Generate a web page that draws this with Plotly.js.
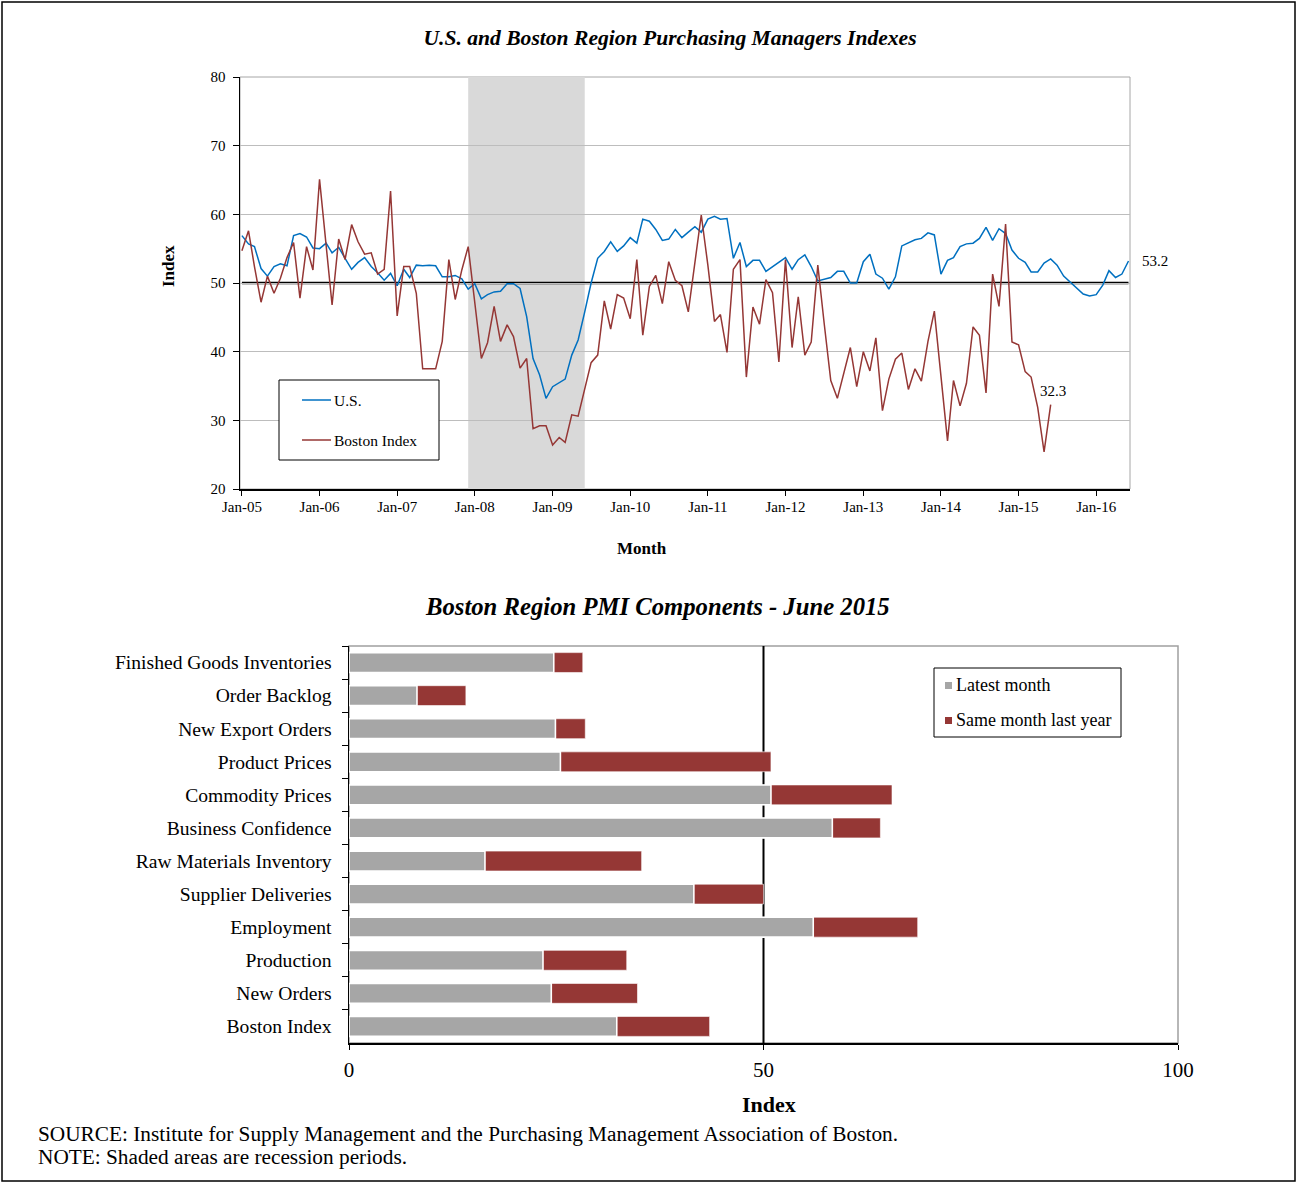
<!DOCTYPE html>
<html><head><meta charset="utf-8">
<script src="https://cdn.plot.ly/plotly-3.0.1.min.js"></script>
<style>html,body{margin:0;padding:0;background:#fff}#chart{width:1297px;height:1183px}</style>
</head><body><div id="chart"></div>
<script>
// ---------- DATA ----------
const firstYear = 2005;              // series start: Jan-05
const usPMI = [
 56.9,55.7,55.3,52.1,51.0,52.4,52.8,52.5,56.9,57.2,56.7,55.1,
 55.0,55.8,54.4,55.2,53.6,52.0,53.0,53.7,52.4,51.5,50.4,51.4,
 49.6,52.0,50.8,52.6,52.5,52.6,52.5,50.9,50.9,51.1,50.6,49.1,
 49.9,47.7,48.3,48.7,48.8,49.9,49.9,49.2,45.1,39.0,36.6,33.2,
 34.9,35.5,36.0,39.5,41.7,45.8,50.0,53.6,54.6,56.0,54.6,55.4,
 56.6,55.8,59.3,59.0,57.8,56.2,56.4,57.8,56.6,57.4,58.2,57.4,
 59.3,59.7,59.3,59.4,53.6,55.9,52.4,53.3,53.3,51.7,52.4,53.0,
 53.7,52.0,53.4,54.1,52.4,50.3,50.5,50.8,51.7,51.7,50.0,50.0,
 53.1,54.2,51.3,50.7,49.1,50.9,55.4,55.8,56.3,56.5,57.3,57.0,
 51.3,53.3,53.7,55.3,55.7,55.8,56.5,58.1,56.2,57.9,57.2,54.8,
 53.6,53.0,51.6,51.6,52.9,53.5,52.6,51.0,50.1,49.2,48.4,48.1,
 48.3,49.7,51.8,50.8,51.3,53.2
];
const bostonPMI = [
 54.7,57.6,52.4,47.2,51.0,48.5,50.7,53.7,55.9,47.8,55.3,51.9,
 65.1,56.0,46.8,56.4,53.4,58.5,56.0,54.2,54.4,51.3,52.0,63.4,
 45.2,52.4,52.4,48.5,37.5,37.5,37.5,41.5,53.4,47.6,51.9,55.3,
 47.2,39.0,41.3,46.6,41.5,43.9,42.2,37.6,39.0,28.8,29.2,29.2,
 26.4,27.5,26.8,30.8,30.6,34.4,38.4,39.5,47.4,43.3,48.3,47.8,
 44.8,53.4,42.4,49.5,51.1,47.0,53.1,50.4,49.6,45.8,53.0,59.9,
 52.6,44.4,45.4,39.9,52.0,53.4,36.3,46.5,44.0,50.5,48.6,38.5,
 53.4,40.6,48.0,39.5,41.4,52.6,44.1,35.8,33.2,36.9,40.6,34.9,
 40.0,37.2,42.0,31.4,36.0,38.9,39.8,34.5,37.5,35.7,41.5,45.9,
 36.6,27.0,35.8,32.1,35.4,43.6,42.4,34.0,51.3,46.6,58.6,41.4,
 41.0,37.1,36.3,31.9,25.4,32.3
];
const recession = ['2007-12-01', '2009-06-01'];
const thresholdValue = 50;

const componentNames = [
 'Finished Goods Inventories','Order Backlog','New Export Orders','Product Prices',
 'Commodity Prices','Business Confidence','Raw Materials Inventory','Supplier Deliveries',
 'Employment','Production','New Orders','Boston Index'
];
const latestMonth       = [24.7, 8.2,24.9,25.5,50.9,58.3,16.4,41.6,56.0,23.4,24.4,32.3];
const sameMonthLastYear = [28.2,14.1,28.5,50.9,65.5,64.1,35.3,50.0,68.6,33.5,34.8,43.5];
const seriesNames = ['U.S.', 'Boston Index'];
const barNames = ['Latest month', 'Same month last year'];

// ---------- HELPERS ----------
const W = 1297, H = 1183;
const px = x => x / W, py = y => 1 - y / H;
const pad = n => (n < 10 ? '0' : '') + n;
const monthDate = i => (firstYear + Math.floor(i / 12)) + '-' + pad(i % 12 + 1) + '-01';
const usX = usPMI.map((_, i) => monthDate(i));
const bosX = bostonPMI.map((_, i) => monthDate(i));
const SERIF = '"Liberation Serif", "Times New Roman", serif';
const BLUE = '#0070c0', RED = '#953735', GRAY = '#a6a6a6';

const traces = [
 {type:'scatter', mode:'lines', name:seriesNames[0], x:usX, y:usPMI, xaxis:'x', yaxis:'y',
  line:{color:BLUE, width:1.5}, hoverinfo:'x+y'},
 {type:'scatter', mode:'lines', name:seriesNames[1], x:bosX, y:bostonPMI, xaxis:'x', yaxis:'y',
  line:{color:RED, width:1.5}, hoverinfo:'x+y'},
 {type:'bar', orientation:'h', name:barNames[1], x:sameMonthLastYear, y:componentNames,
  xaxis:'x2', yaxis:'y2', width:0.6, marker:{color:RED, line:{color:'#ffffff', width:0.6}}},
 {type:'bar', orientation:'h', name:barNames[0], x:latestMonth, y:componentNames,
  xaxis:'x2', yaxis:'y2', width:0.6, marker:{color:GRAY, line:{color:'#ffffff', width:1.6}}}
];

const shapes = [
 // recession shading
 {type:'rect', xref:'x', yref:'y', x0:recession[0], x1:recession[1], y0:20, y1:80,
  fillcolor:'#d9d9d9', line:{width:0}, layer:'below'},
 // top plot frame
 {type:'rect', xref:'x domain', yref:'y domain', x0:0, x1:1, y0:0, y1:1,
  line:{color:'#a6a6a6', width:1}, layer:'below'},
 // 50 reference line (top)
 {type:'line', xref:'x', yref:'y', x0:usX[0], x1:usX[usX.length-1], y0:thresholdValue, y1:thresholdValue,
  line:{color:'#000', width:2.5}, layer:'below'},
 // bottom plot frame
 {type:'rect', xref:'x2 domain', yref:'y2 domain', x0:0, x1:1, y0:0, y1:1,
  line:{color:'#a0a0a0', width:1.5}, layer:'below'},
 // 50 reference line (bottom)
 {type:'line', xref:'x2', yref:'y2 domain', x0:thresholdValue, x1:thresholdValue, y0:0, y1:1,
  line:{color:'#000', width:2}, layer:'below'},
 // outer border
 {type:'rect', xref:'paper', yref:'paper', x0:px(2), x1:px(1295), y0:py(1181), y1:py(2),
  line:{color:'#000', width:1.5}},
 // top legend
 {type:'rect', xref:'paper', yref:'paper', x0:px(279), x1:px(439), y0:py(460), y1:py(380),
  fillcolor:'#fff', line:{color:'#000', width:1}},
 {type:'line', xref:'paper', yref:'paper', x0:px(302), x1:px(331), y0:py(400), y1:py(400),
  line:{color:BLUE, width:1.5}},
 {type:'line', xref:'paper', yref:'paper', x0:px(302), x1:px(331), y0:py(440), y1:py(440),
  line:{color:RED, width:1.5}},
 // bottom legend
 {type:'rect', xref:'paper', yref:'paper', x0:px(934), x1:px(1121), y0:py(737), y1:py(668),
  fillcolor:'#fff', line:{color:'#000', width:1}},
 {type:'rect', xref:'paper', yref:'paper', x0:px(945), x1:px(952), y0:py(689), y1:py(682),
  fillcolor:GRAY, line:{width:0}},
 {type:'rect', xref:'paper', yref:'paper', x0:px(945), x1:px(952), y0:py(724), y1:py(717),
  fillcolor:RED, line:{width:0}}
];

const ann = (text, x, y, size, extra) => Object.assign({text, x:px(x), y:py(y), xref:'paper', yref:'paper',
  showarrow:false, font:{family:SERIF, size, color:'#000'}, xanchor:'center', yanchor:'middle', borderpad:0}, extra || {});

const annotations = [
 ann('<b><i>Boston Region PMI Components - June 2015</i></b>', 657, 606, 24.7),
 ann('<b>Index</b>', 168, 266, 17, {textangle:-90}),
 ann('<b>Month</b>', 642, 548, 17),
 ann('<b>Index</b>', 769, 1104, 22),
 ann(seriesNames[0], 333, 400, 15.5, {xanchor:'left'}),
 ann(seriesNames[1], 333, 440, 15.5, {xanchor:'left'}),
 ann(barNames[0], 955, 685, 18, {xanchor:'left'}),
 ann(barNames[1], 955, 720, 18, {xanchor:'left'}),
 ann('SOURCE: Institute for Supply Management and the Purchasing Management Association of Boston.', 37, 1134, 21.3, {xanchor:'left'}),
 ann('NOTE: Shaded areas are recession periods.', 37, 1157, 21.3, {xanchor:'left'}),
 {text:usPMI[usPMI.length-1].toFixed(1), x:usX[usX.length-1], y:usPMI[usPMI.length-1], xref:'x', yref:'y',
  showarrow:false, xanchor:'left', yanchor:'middle', xshift:11, font:{family:SERIF, size:15, color:'#000'}},
 {text:bostonPMI[bostonPMI.length-1].toFixed(1), x:bosX[bosX.length-1], y:bostonPMI[bostonPMI.length-1], xref:'x', yref:'y',
  showarrow:false, xanchor:'center', yanchor:'middle', xshift:2, yshift:14, font:{family:SERIF, size:15, color:'#000'}}
];

const layout = {
 width:W, height:H, margin:{l:0, r:0, t:0, b:0}, autosize:false,
 paper_bgcolor:'#fff', plot_bgcolor:'#fff', showlegend:false,
 font:{family:SERIF, color:'#000'},
 title:{text:'<b><i>U.S. and Boston Region Purchasing Managers Indexes</i></b>', x:px(670), xanchor:'center',
  xref:'paper', y:py(37), yanchor:'middle', yref:'paper', font:{family:SERIF, size:21.6, color:'#000'}},
 xaxis:{domain:[px(240), px(1130)], anchor:'y', type:'date', range:['2004-12-23', '2016-06-08'],
  tick0:'2005-01-01', dtick:'M12', tickformat:'%b-%y', ticks:'outside', ticklen:5, tickcolor:'#000', tickwidth:1,
  showline:true, linecolor:'#000', linewidth:1.5, showgrid:false, zeroline:false, ticklabelstandoff:-2,
  tickfont:{family:SERIF, size:15, color:'#000'}, fixedrange:true},
 yaxis:{domain:[py(489), py(77)], anchor:'x', range:[20, 80], tick0:20, dtick:10,
  ticks:'outside', ticklen:6, tickcolor:'#000', showline:true, linecolor:'#000', linewidth:1.5,
  showgrid:true, gridcolor:'#bdbdbd', gridwidth:1, zeroline:false, ticklabelstandoff:4,
  tickfont:{family:SERIF, size:15, color:'#000'}, fixedrange:true},
 xaxis2:{domain:[px(349), px(1178)], anchor:'y2', range:[0, 100], tickvals:[0, 50, 100],
  ticks:'outside', ticklen:5, tickcolor:'#000', showline:true, linecolor:'#000', linewidth:1.5,
  showgrid:false, zeroline:false, tickfont:{family:SERIF, size:21, color:'#000'}, ticklabelstandoff:2, fixedrange:true},
 yaxis2:{domain:[py(1043), py(646)], anchor:'x2', type:'category', autorange:'reversed',
  categoryorder:'array', categoryarray:componentNames, tickson:'boundaries',
  ticks:'outside', ticklen:6, tickcolor:'#000', showline:true, linecolor:'#000', linewidth:1.5,
  showgrid:false, zeroline:false, tickfont:{family:SERIF, size:19.6, color:'#000'}, ticklabelstandoff:12, fixedrange:true},
 barmode:'overlay',
 shapes, annotations
};

Plotly.newPlot('chart', traces, layout, {displayModeBar:false, staticPlot:true});
</script>
</body></html>
